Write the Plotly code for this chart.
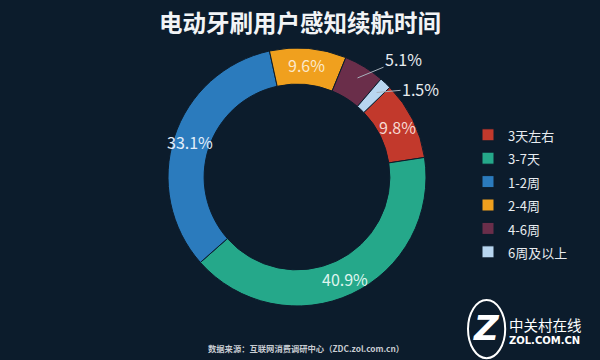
import math
import plotly.graph_objects as go

labels = ["3天左右", "3-7天", "1-2周", "2-4周", "4-6周", "6周及以上"]
values = [9.8, 40.9, 33.1, 9.6, 5.1, 1.5]
colors = ["#c2392c", "#25a88a", "#2b7bbd", "#f0a01e", "#6a2e4a", "#b8d6f0"]
text_colors = ["#f6d8d2", "#def5ee", "#e2eefa", "#fbe9cc", "#e8ecf0", "#e8ecf0"]
# label placement: inside the ring, or outside with a leader line (offset in px)
outside = [False, False, False, False, True, True]
leader_offsets = [None, None, None, None, (46, -19), (44, -4)]

title = "电动牙刷用户感知续航时间"
source = "数据来源：互联网消费调研中心（ZDC.zol.com.cn）"
BG = "#0c1c2c"
FONT = "Noto Sans CJK SC"
W, H = 600, 360

# pie geometry
CX, CY, R = 297, 177, 129
HOLE = 0.72
ROT = 46

legend_names = ['<span style="font-size:13px">%s</span>' % l for l in labels]

fig = go.Figure()
fig.add_trace(go.Pie(
    labels=legend_names,
    values=values,
    sort=False,
    direction="clockwise",
    rotation=ROT,
    hole=HOLE,
    marker=dict(colors=colors, line=dict(color=BG, width=1)),
    textinfo="none",
    domain=dict(x=[(CX - R) / W, (CX + R) / W], y=[1 - (CY + R) / H, 1 - (CY - R) / H]),
    hoverinfo="value+percent",
))

# value labels at each slice's mid-angle, derived from the data
annotations = []
total = sum(values)
cum = 0.0
for v, out, off, c in zip(values, outside, leader_offsets, text_colors):
    theta = math.radians(ROT + 360.0 * (cum + v / 2) / total)
    if out:
        rl = R * 0.9
        px = CX + rl * math.sin(theta)
        py = CY - rl * math.cos(theta)
        annotations.append(dict(
            text="%.1f%%" % v, x=px / W, y=1 - py / H, xref="paper", yref="paper",
            showarrow=True, arrowhead=0, arrowwidth=1, arrowcolor="#a8b2bc",
            ax=off[0], ay=off[1], standoff=0, xanchor="center", yanchor="middle",
            font=dict(family=FONT, size=16, color=c)))
    else:
        rl = R * 0.87
        px = CX + rl * math.sin(theta)
        py = CY - rl * math.cos(theta)
        annotations.append(dict(
            text="%.1f%%" % v, x=px / W, y=1 - py / H, xref="paper", yref="paper",
            xanchor="center", yanchor="middle", showarrow=False,
            font=dict(family=FONT, size=16, color=c)))
    cum += v

annotations += [
    dict(text="<b>" + title + "</b>", x=0.5, y=0.94, xref="paper", yref="paper",
         xanchor="center", yanchor="middle", showarrow=False,
         font=dict(family=FONT, size=23.5, color="#f2f4f6")),
    dict(text="<b>" + source + "</b>", x=0.51, y=0.033, xref="paper", yref="paper",
         xanchor="center", yanchor="middle", showarrow=False,
         font=dict(family=FONT, size=8.3, color="#c8ccd2")),
    dict(text="<b><i>Z</i></b>", x=0.811, y=0.09, xref="paper", yref="paper",
         xanchor="center", yanchor="middle", showarrow=False,
         font=dict(family="DejaVu Sans", size=34, color="#ffffff")),
    dict(text="中关村在线", x=0.845, y=0.098, xref="paper", yref="paper",
         xanchor="left", yanchor="middle", showarrow=False,
         font=dict(family=FONT, size=14.5, color="#ffffff")),
    dict(text="<b>ZOL.COM.CN</b>", x=0.845, y=0.053, xref="paper", yref="paper",
         xanchor="left", yanchor="middle", showarrow=False,
         font=dict(family="DejaVu Sans", size=10, color="#ffffff")),
]

fig.update_layout(
    width=W, height=H,
    paper_bgcolor=BG, plot_bgcolor=BG,
    margin=dict(l=0, r=0, t=0, b=0),
    font=dict(family=FONT, color="#ffffff"),
    showlegend=True,
    legend=dict(
        x=0.78, y=0.672, xanchor="left", yanchor="top",
        font=dict(family=FONT, size=15.7, color="#e8ecf0"),
        itemwidth=30, bgcolor="rgba(0,0,0,0)",
    ),
    annotations=annotations,
    shapes=[
        dict(type="circle", xref="paper", yref="paper",
             x0=0.78, x1=0.842, y0=0.005, y1=0.167,
             line=dict(color="#ffffff", width=2)),
    ],
)

fig.write_html("out.html", config={"displayModeBar": False},
               post_script="document.body.style.margin='0';document.body.style.background='%s';" % BG)
